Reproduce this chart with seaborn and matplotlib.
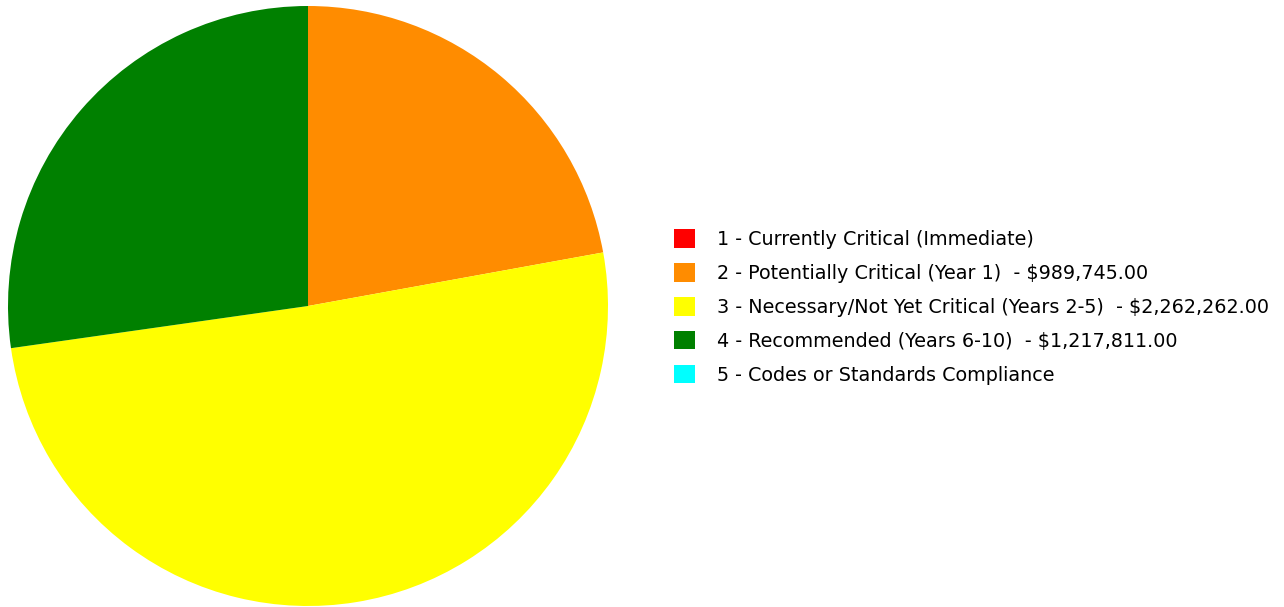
import matplotlib
matplotlib.use("Agg")
import matplotlib.pyplot as plt
import matplotlib.patches as mpatches
import seaborn as sns

categories = [
    "1 - Currently Critical (Immediate)",
    "2 - Potentially Critical (Year 1)",
    "3 - Necessary/Not Yet Critical (Years 2-5)",
    "4 - Recommended (Years 6-10)",
    "5 - Codes or Standards Compliance",
]
values = [0, 989745.00, 2262262.00, 1217811.00, 0]
colors = ["#ff0000", "#ff8c00", "#ffff00", "#008000", "#00ffff"]

sns.set_theme(style="white")
plt.rcParams["font.family"] = ["DejaVu Sans"]
palette = sns.color_palette(colors)

fig = plt.figure(figsize=(12.84, 6.07), dpi=100)
ax = fig.add_axes([8 / 1284, 1 / 607, 600 / 1284, 600 / 607])

nz = [(v, c) for v, c in zip(values, palette) if v > 0]
ax.pie([v for v, _ in nz], colors=[c for _, c in nz], startangle=90,
       counterclock=False, radius=1.0, wedgeprops=dict(linewidth=0))
ax.set_xlim(-1, 1)
ax.set_ylim(-1, 1)
ax.set_aspect("equal")
ax.axis("off")

labels = []
for cat, v in zip(categories, values):
    if v > 0:
        labels.append(f"{cat}  - ${v:,.2f}")
    else:
        labels.append(cat)
handles = [mpatches.Patch(facecolor=c, edgecolor="none") for c in palette]
fig.legend(handles, labels, loc="center left",
           bbox_to_anchor=(674 / 1284, 1 - 307 / 607),
           frameon=False, fontsize=13.75, handlelength=1.1, handleheight=1.1,
           handletextpad=1.15, labelspacing=0.75, borderaxespad=0,
           borderpad=0, labelcolor="black")

fig.savefig("out.png", dpi=100, facecolor="white")
